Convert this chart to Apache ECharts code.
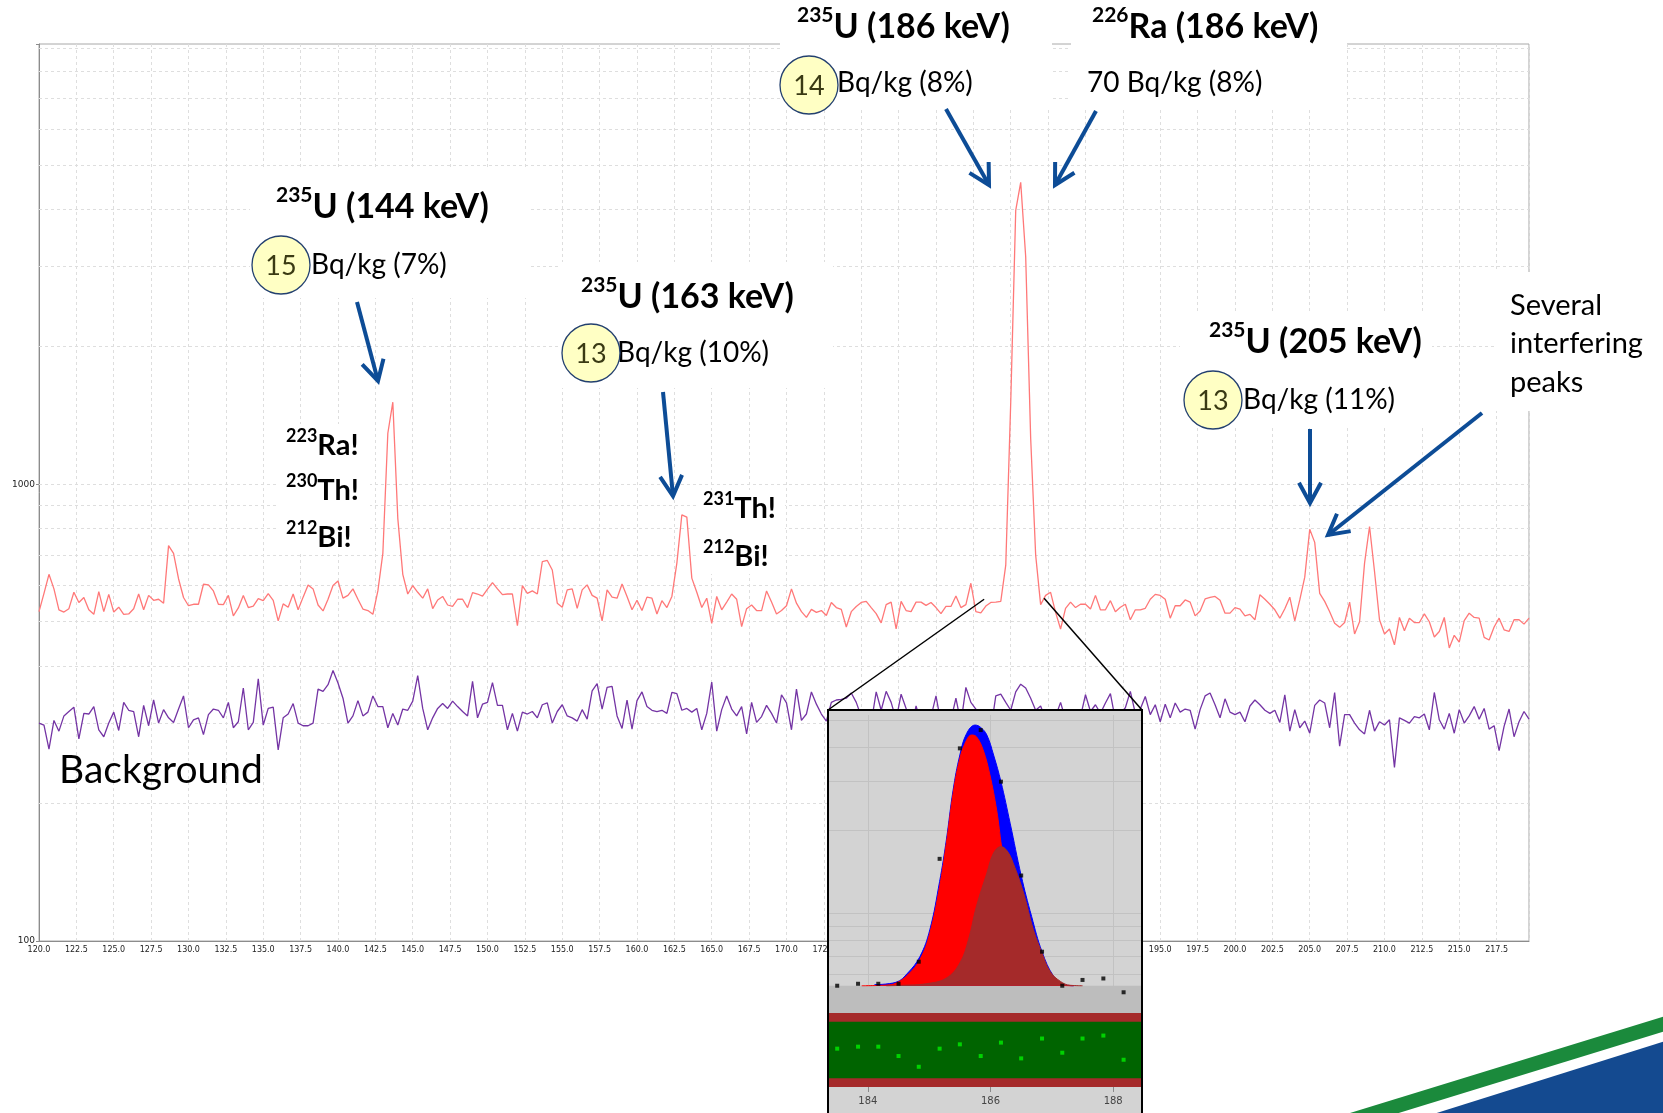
<!DOCTYPE html>
<html>
<head>
<meta charset="UTF-8">
<title>235U / 226Ra spectrum</title>
<script src="https://cdn.jsdelivr.net/npm/echarts@6/dist/echarts.min.js"></script>
<style>
  html, body { margin: 0; padding: 0; background: #fff; }
  #main { width: 1663px; height: 1113px; }
</style>
</head>
<body>
<div id="main"></div>
<script>
// spectrum: 300 channels, 1/3 keV wide, starting at 120 keV
var channelStart = 120;
var channelStep = 1 / 3;

var sampleCounts = [
  526,577,635,590,531,525,534,580,551,565,
  531,519,582,526,574,525,538,519,520,534,
  575,531,571,557,560,549,734,706,621,565,
  542,546,546,604,602,584,546,545,571,515,
  536,571,537,541,562,556,576,557,502,547,
  538,575,531,566,602,590,544,528,560,600,
  614,563,571,590,560,533,529,519,584,706,
  1293,1512,842,635,575,600,580,563,590,534,
  558,568,544,540,560,560,537,579,575,569,
  589,609,590,573,575,575,490,600,577,584,
  575,677,681,649,549,538,587,590,535,587,
  602,571,563,502,587,566,563,605,568,531,
  557,529,566,563,520,556,537,568,672,857,
  847,623,580,537,563,496,568,531,552,575,
  560,488,534,544,529,529,584,552,520,529,
  542,590,549,526,511,532,524,529,516,551,
  537,532,487,526,540,551,554,537,521,497,
  545,552,482,554,529,526,552,552,543,551,
  537,521,540,540,569,537,545,607,526,523,
  541,551,552,554,665,1514,3975,4581,3147,1261,
  700,545,571,580,524,482,535,552,537,546,
  546,533,571,531,531,556,526,538,546,505,
  531,531,535,560,574,571,560,509,542,542,
  558,552,515,528,561,565,568,557,522,522,
  537,533,515,519,505,573,560,546,531,509,
  534,566,502,558,626,797,746,577,554,526,
  496,486,498,552,470,500,672,808,644,505,
  470,482,445,511,478,509,498,498,520,500,
  463,476,511,438,467,451,503,522,511,509,
  462,456,487,509,480,476,505,505,494,509
];

var backgroundCounts = [
  300,297,263,304,288,311,318,325,277,315,
  314,326,290,280,300,317,289,333,320,318,
  280,328,296,337,300,321,308,301,322,344,
  293,305,308,283,313,322,320,308,333,293,
  302,358,290,301,375,297,323,325,262,308,
  314,331,300,296,296,300,356,352,364,391,
  367,340,300,311,336,311,317,344,326,326,
  293,315,297,322,320,335,381,323,290,308,
  323,331,323,335,326,318,311,370,308,330,
  333,368,328,328,290,315,288,317,314,318,
  308,329,332,300,318,329,311,308,303,321,
  306,353,366,322,359,361,311,292,337,291,
  336,351,326,320,318,320,315,350,348,320,
  323,317,323,290,315,369,288,321,344,322,
  311,326,284,333,301,310,328,315,300,346,
  332,290,356,304,314,351,330,314,303,333,
  337,338,340,349,333,310,320,300,351,320,
  352,333,305,347,323,290,327,300,285,310,
  344,300,295,305,340,300,359,333,322,295,
  310,290,344,347,333,320,351,365,358,340,
  320,327,305,300,310,333,305,300,312,310,
  346,318,329,315,332,348,305,315,324,352,
  315,322,343,313,329,302,330,308,332,317,
  322,320,291,321,344,349,329,308,339,317,
  313,317,302,327,337,329,320,315,320,301,
  346,288,321,293,303,285,328,337,332,293,
  350,267,313,313,300,290,284,320,288,302,
  297,305,240,308,304,300,310,308,314,290,
  350,305,291,315,285,321,300,311,326,306,
  323,291,296,261,295,322,280,302,318,306
];

var logGridValues = [200,300,400,500,600,700,800,900,1000,2000,3000,4000,5000,6000,7000,8000,9000];

// inset: fit of the 186 keV doublet
var fitE = [183.50,183.84,184.17,184.50,184.83,185.17,185.50,185.84,186.17,186.50,186.84,187.17,187.50,187.84,188.17];
var fitCounts = [546,555,555,555,667,1572,3948,4598,2991,1368,725,546,573,580,517];
var fitResidual = [0.11,0.27,0.27,-0.49,-1.36,0.11,0.46,-0.49,0.6,-0.68,0.93,-0.22,0.93,1.17,-0.79];

var totalFitE = [184.11,184.46,184.65,184.85,185.01,185.17,185.28,185.39,185.50,185.61,185.75,185.84,185.94,186.05,186.17,186.32,186.50,186.67,186.84,187.03,187.19,187.36];
var totalFitV = [551,562,607,697,870,1302,1841,2789,3735,4466,4794,4700,4413,3735,2991,2115,1368,973,725,590,551,546];
var u235FitE = [183.90,184.30,184.46,184.65,184.85,185.01,185.17,185.28,185.39,185.50,185.61,185.69,185.77,185.88,185.99,186.10,186.18,186.26,186.37,186.48,186.65,186.86,187.14,187.35];
var u235FitV = [546,549,558,598,680,847,1249,1790,2710,3630,4230,4413,4350,3895,3163,2360,1741,1320,972,758,607,558,548,546];
var ra226FitE = [184.30,184.57,184.95,185.28,185.50,185.64,185.77,185.94,186.05,186.17,186.27,186.37,186.54,186.70,186.84,186.97,187.14,187.30,187.50];
var ra226FitV = [546,548,555,582,660,801,1057,1395,1650,1741,1680,1516,1181,870,717,616,566,548,546];

var insetGridValues = [600,700,800,900,1000,2000,3000,4000,5000];
var insetTicks = [184,186,188];
var fitBaseline = 546;

var FONT = 'Lato, "Open Sans", sans-serif';
var ARROW = '#0d4c96';

function pairs(xs, ys) {
  return ys.map(function (v, i) { return [xs[i], v]; });
}
function channelPairs(counts) {
  return counts.map(function (c, i) { return [channelStart + i * channelStep, c]; });
}

function isoLabel(x, y, mass, rest, size) {
  return {
    type: 'text', x: x, y: y, z: 51,
    style: {
      text: '{s|' + mass + '}{m|' + rest + '}',
      verticalAlign: 'middle',
      rich: {
        s: { fontFamily: FONT, fontWeight: 'bold', fontSize: Math.round(size * 0.62), fill: '#000', verticalAlign: 'top', lineHeight: Math.round(size * 0.62) },
        m: { fontFamily: FONT, fontWeight: 'bold', fontSize: size, fill: '#000', lineHeight: Math.round(size * 1.3) }
      }
    }
  };
}
function plainText(x, y, txt, size, align) {
  return {
    type: 'text', x: x, y: y, z: 51,
    style: { text: txt, fontFamily: FONT, fontSize: size, fill: '#000', align: align || 'left', verticalAlign: 'middle' }
  };
}
function badge(cx, cy, num) {
  return [
    { type: 'circle', z: 51, shape: { cx: cx, cy: cy, r: 29 }, style: { fill: '#ffffc4', stroke: '#23406f', lineWidth: 1.3 } },
    { type: 'text', x: cx, y: cy + 1, z: 52, style: { text: num, fontFamily: FONT, fontSize: 27, fill: '#3a3a14', align: 'center', verticalAlign: 'middle' } }
  ];
}
function whiteBox(x, y, w, h) {
  return { type: 'rect', z: 50, shape: { x: x, y: y, width: w, height: h }, style: { fill: '#fff' } };
}
function arrow(x1, y1, x2, y2) {
  var ang = Math.atan2(y2 - y1, x2 - x1), len = 23, spread = 0.5;
  var a1 = [x2 - len * Math.cos(ang - spread), y2 - len * Math.sin(ang - spread)];
  var a2 = [x2 - len * Math.cos(ang + spread), y2 - len * Math.sin(ang + spread)];
  return [
    { type: 'line', z: 52, shape: { x1: x1, y1: y1, x2: x2, y2: y2 }, style: { stroke: ARROW, lineWidth: 4 } },
    { type: 'polyline', z: 52, shape: { points: [a1, [x2, y2], a2] }, style: { stroke: ARROW, lineWidth: 4, fill: null } }
  ];
}

var insetBox = { left: 828, top: 710, right: 1142 };

var graphics = [].concat(
  [
    whiteBox(780, 0, 272, 110),
    whiteBox(1071, 0, 276, 110),
    whiteBox(250, 170, 280, 128),
    whiteBox(560, 262, 273, 126),
    whiteBox(1180, 312, 252, 116),
    whiteBox(1496, 272, 167, 139),
    whiteBox(276, 424, 94, 128),
    whiteBox(697, 490, 88, 84)
  ],
  [
    isoLabel(797, 27, '235', 'U (186 keV)', 34),
    plainText(837, 83, 'Bq/kg (8%)', 28),
    isoLabel(1092, 27, '226', 'Ra (186 keV)', 34),
    plainText(1087, 83, '70 Bq/kg (8%)', 28),
    isoLabel(276, 207, '235', 'U (144 keV)', 34),
    plainText(311, 265, 'Bq/kg (7%)', 28),
    isoLabel(581, 297, '235', 'U (163 keV)', 34),
    plainText(617, 353, 'Bq/kg (10%)', 28),
    isoLabel(1209, 342, '235', 'U (205 keV)', 34),
    plainText(1243, 400, 'Bq/kg (11%)', 28),
    plainText(1510, 306, 'Several', 29),
    plainText(1510, 344, 'interfering', 29),
    plainText(1510, 383, 'peaks', 29),
    isoLabel(286, 446, '223', 'Ra!', 29),
    isoLabel(286, 491, '230', 'Th!', 29),
    isoLabel(286, 538, '212', 'Bi!', 29),
    isoLabel(703, 509, '231', 'Th!', 29),
    isoLabel(703, 557, '212', 'Bi!', 29),
    plainText(59, 770, 'Background', 39)
  ],
  badge(809, 85, '14'),
  badge(281, 265, '15'),
  badge(591, 353, '13'),
  badge(1213, 400, '13'),
  arrow(946, 109, 989, 185),
  arrow(1096, 111, 1055, 185),
  arrow(357, 302, 378, 381),
  arrow(663, 392, 673, 496),
  arrow(1310, 429, 1310, 503),
  arrow(1482, 413, 1328, 535),
  [
    // inset panel
    { type: 'rect', z: 5, shape: { x: insetBox.left, y: insetBox.top, width: insetBox.right - insetBox.left, height: 420 }, style: { fill: '#d3d3d3' } },
    { type: 'rect', z: 30, shape: { x: insetBox.left, y: insetBox.top, width: insetBox.right - insetBox.left, height: 420 }, style: { fill: null, stroke: '#000', lineWidth: 2 } },
    { id: 'conL', type: 'line', z: 4, shape: { x1: 0, y1: 0, x2: 0, y2: 0 }, style: { stroke: '#000', lineWidth: 1.5 } },
    { id: 'conR', type: 'line', z: 4, shape: { x1: 0, y1: 0, x2: 0, y2: 0 }, style: { stroke: '#000', lineWidth: 1.5 } },
    // logo stripes
    { type: 'polygon', z: 60, shape: { points: [[1350, 1113], [1663, 1016.7], [1663, 1031.7], [1398.7, 1113]] }, style: { fill: '#1b8a3c' } },
    { type: 'polygon', z: 60, shape: { points: [[1436.7, 1113], [1663, 1041.7], [1663, 1113]] }, style: { fill: '#144a90' } }
  ]
);

var myChart = echarts.init(document.getElementById('main'));

var option = {
  animation: false,
  backgroundColor: '#fff',
  grid: [
    { left: 39, top: 44, right: 134, bottom: 172, show: true, borderColor: '#a8a8a8', borderWidth: 1 },
    { left: insetBox.left, top: 715, width: 314, height: 298 },
    { left: insetBox.left, top: 1013, width: 314, height: 74 }
  ],
  xAxis: [
    {
      gridIndex: 0, type: 'value', min: 120, max: channelStart + 299 * channelStep, interval: 2.5,
      axisLine: { lineStyle: { color: '#8c8c8c' } },
      axisTick: { show: false },
      axisLabel: {
        fontFamily: 'DejaVu Sans', fontSize: 8, color: '#222', margin: 5,
        formatter: function (v) { return v > 218 ? '' : v.toFixed(1); }
      },
      splitLine: { show: true, lineStyle: { color: '#dedede', type: [3, 3] } }
    },
    { gridIndex: 1, type: 'value', min: 183.35, max: 188.47, show: false },
    {
      gridIndex: 2, type: 'value', min: 183.35, max: 188.47, z: 20, position: 'bottom',
      axisLine: { show: false, onZero: false },
      axisTick: { show: true, customValues: insetTicks, length: 5, lineStyle: { color: '#8a8a8a' } },
      axisLabel: { customValues: insetTicks, fontFamily: 'DejaVu Sans', fontSize: 10, color: '#444', margin: 9 },
      splitLine: { show: false }
    }
  ],
  yAxis: [
    {
      gridIndex: 0, type: 'log', logBase: 10, min: 100, max: 9200, splitNumber: 2,
      axisLine: { show: true, lineStyle: { color: '#8c8c8c' } },
      axisTick: { show: true, length: 3, lineStyle: { color: '#8c8c8c' } },
      axisLabel: {
        fontFamily: 'DejaVu Sans', fontSize: 9, color: '#222', margin: 4,
        formatter: function (v) {
          var l = Math.log10(v);
          return Math.abs(l - Math.round(l)) < 1e-6 ? String(Math.round(v)) : '';
        }
      },
      splitLine: { show: false }
    },
    { gridIndex: 1, type: 'log', logBase: 10, min: 435, max: 5213, show: false },
    { gridIndex: 2, type: 'value', min: -3, max: 3, show: false }
  ],
  series: [
    {
      // horizontal log grid lines of the main plot
      type: 'line', xAxisIndex: 0, yAxisIndex: 0, data: [], z: 1, silent: true,
      markLine: {
        z: 1, silent: true, symbol: ['none', 'none'], label: { show: false },
        lineStyle: { color: '#dedede', type: [3, 3], width: 1 },
        data: logGridValues.map(function (v) { return { yAxis: v }; })
      }
    },
    {
      name: 'Background', type: 'line', xAxisIndex: 0, yAxisIndex: 0, z: 3,
      showSymbol: false, lineStyle: { color: '#7434a4', width: 1.3 },
      data: channelPairs(backgroundCounts)
    },
    {
      name: 'Sample', type: 'line', xAxisIndex: 0, yAxisIndex: 0, z: 3,
      showSymbol: false, lineStyle: { color: '#ff7878', width: 1.3 },
      data: channelPairs(sampleCounts)
    },
    {
      // inset grid lines
      type: 'line', xAxisIndex: 1, yAxisIndex: 1, data: [], z: 10, silent: true,
      markLine: {
        z: 10, silent: true, symbol: ['none', 'none'], label: { show: false },
        lineStyle: { color: '#c2c2c2', type: 'solid', width: 1 },
        data: insetGridValues.map(function (v) { return { yAxis: v }; })
          .concat(insetTicks.map(function (v) { return { xAxis: v }; }))
      }
    },
    {
      // continuum under the fit
      type: 'line', xAxisIndex: 1, yAxisIndex: 1, data: [], z: 11, silent: true,
      markArea: { z: 11, silent: true, itemStyle: { color: '#bdbdbd' }, data: [[{ yAxis: 435 }, { yAxis: fitBaseline }]] }
    },
    {
      name: 'Total fit', type: 'line', xAxisIndex: 1, yAxisIndex: 1, z: 12, smooth: 0.4,
      showSymbol: false, lineStyle: { color: '#0000ff', width: 1 },
      areaStyle: { color: '#0000ff', opacity: 1, origin: fitBaseline },
      data: pairs(totalFitE, totalFitV)
    },
    {
      name: '235U', type: 'line', xAxisIndex: 1, yAxisIndex: 1, z: 13, smooth: 0.4,
      showSymbol: false, lineStyle: { color: '#ff0000', width: 1 },
      areaStyle: { color: '#ff0000', opacity: 1, origin: fitBaseline },
      data: pairs(u235FitE, u235FitV)
    },
    {
      name: '226Ra', type: 'line', xAxisIndex: 1, yAxisIndex: 1, z: 14, smooth: 0.4,
      showSymbol: false, lineStyle: { color: '#a52a2a', width: 1 },
      areaStyle: { color: '#a52a2a', opacity: 1, origin: fitBaseline },
      data: pairs(ra226FitE, ra226FitV)
    },
    {
      name: 'Counts', type: 'scatter', xAxisIndex: 1, yAxisIndex: 1, z: 15,
      symbol: 'rect', symbolSize: 4, itemStyle: { color: '#000' },
      data: pairs(fitE, fitCounts)
    },
    {
      type: 'line', xAxisIndex: 2, yAxisIndex: 2, data: [], z: 10, silent: true,
      markArea: { z: 10, silent: true, itemStyle: { color: '#a52a2a' }, data: [[{ yAxis: -3 }, { yAxis: 3 }]] }
    },
    {
      type: 'line', xAxisIndex: 2, yAxisIndex: 2, data: [], z: 11, silent: true,
      markArea: { z: 11, silent: true, itemStyle: { color: '#006400' }, data: [[{ yAxis: -2.3 }, { yAxis: 2.3 }]] }
    },
    {
      name: 'Residual', type: 'scatter', xAxisIndex: 2, yAxisIndex: 2, z: 14,
      symbol: 'rect', symbolSize: 4, itemStyle: { color: '#00ee00' },
      data: pairs(fitE, fitResidual)
    }
  ],
  graphic: { elements: graphics }
};

myChart.setOption(option);

// zoom connectors: from the 186 keV region of the spectrum to the inset corners
var pL = myChart.convertToPixel({ xAxisIndex: 0, yAxisIndex: 0 }, [183.22, 560]);
var pR = myChart.convertToPixel({ xAxisIndex: 0, yAxisIndex: 0 }, [187.23, 563]);
myChart.setOption({
  graphic: { elements: [
    { id: 'conL', shape: { x1: pL[0], y1: pL[1], x2: insetBox.left, y2: insetBox.top } },
    { id: 'conR', shape: { x1: pR[0], y1: pR[1], x2: insetBox.right, y2: insetBox.top } }
  ] }
});
</script>
</body>
</html>
